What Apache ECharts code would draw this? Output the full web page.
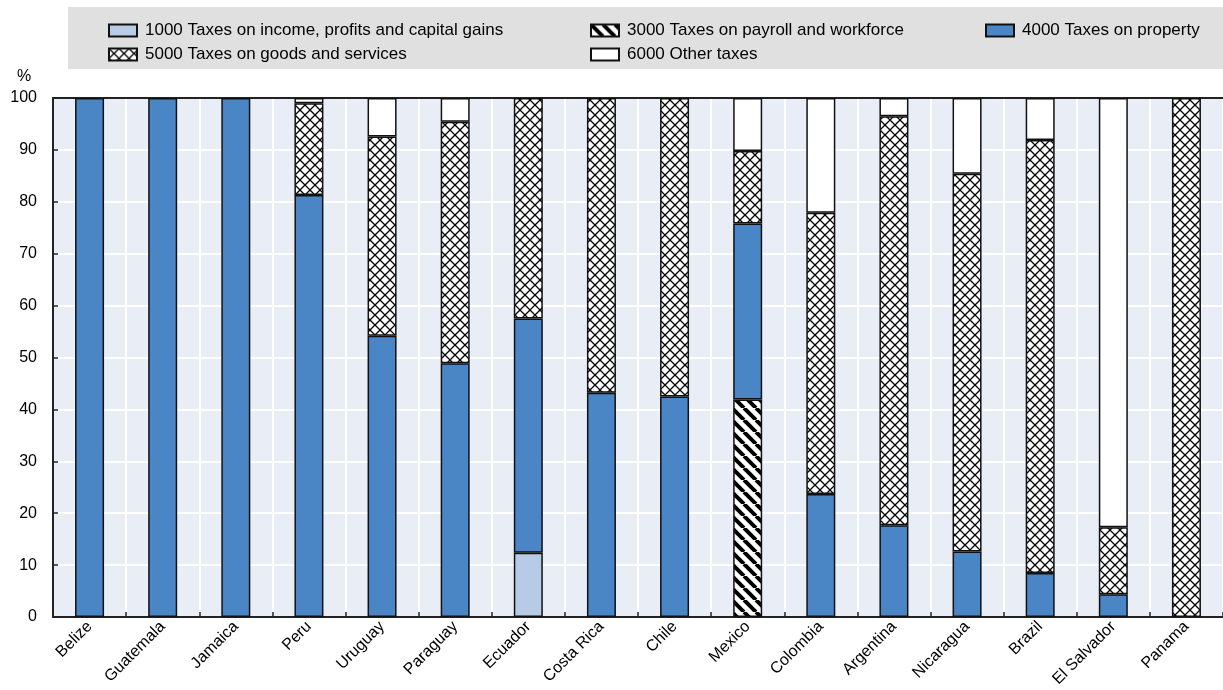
<!DOCTYPE html>
<html>
<head>
<meta charset="utf-8">
<script src="https://cdn.jsdelivr.net/npm/echarts@6/dist/echarts.min.js"></script>
<style>
html,body{margin:0;padding:0;background:#fff;}
#chart{width:1223px;height:690px;}
</style>
</head>
<body>
<div id="chart"></div>
<script>
const categories = ['Belize','Guatemala','Jamaica','Peru','Uruguay','Paraguay','Ecuador','Costa Rica','Chile','Mexico','Colombia','Argentina','Nicaragua','Brazil','El Salvador','Panama'];
const tax1000 = [null,null,null,null,null,null,12.4,null,null,null,null,null,null,null,null,null];
const tax3000 = [null,null,null,null,null,null,null,null,null,41.9,null,null,null,null,null,null];
const tax4000 = [100,100,100,81.3,54.2,48.9,45.1,43.2,42.5,33.9,23.7,17.7,12.6,8.5,4.4,null];
const tax5000 = [null,null,null,17.7,38.4,46.5,42.5,56.8,57.5,14.0,54.2,78.8,72.8,83.4,12.9,100];
const tax6000 = [null,null,null,1.0,7.4,4.6,null,null,null,10.2,22.1,3.5,14.6,8.1,82.7,null];
const seriesNames = ['1000 Taxes on income, profits and capital gains','3000 Taxes on payroll and workforce','4000 Taxes on property','5000 Taxes on goods and services','6000 Other taxes'];
const yTicks = [0,10,20,30,40,50,60,70,80,90,100];

function crossTile(){
  const c=document.createElement('canvas'); c.width=10; c.height=10;
  const g=c.getContext('2d');
  g.fillStyle='#fff'; g.fillRect(0,0,10,10);
  g.strokeStyle='#000'; g.lineWidth=1.3;
  g.beginPath(); g.moveTo(0,0); g.lineTo(10,10); g.moveTo(10,0); g.lineTo(0,10); g.stroke();
  return c;
}
function stripeTile(){
  const c=document.createElement('canvas'); c.width=12; c.height=12;
  const g=c.getContext('2d');
  g.fillStyle='#fff'; g.fillRect(0,0,12,12);
  g.strokeStyle='#000'; g.lineWidth=4;
  g.beginPath();
  for(let k=-12;k<=12;k+=12){ g.moveTo(k,0); g.lineTo(k+12,12); }
  g.stroke();
  return c;
}
const colors = [
  '#b8cbe6',
  {image: stripeTile(), repeat:'repeat'},
  '#4a86c5',
  {image: crossTile(), repeat:'repeat'},
  '#ffffff'
];
const dataSets = [tax1000,tax3000,tax4000,tax5000,tax6000];
const FONT = "'Liberation Sans', Arial, sans-serif";

const chart = echarts.init(document.getElementById('chart'), null, {renderer:'canvas'});
const legendPos = [
  {left:108, top:22},
  {left:590, top:22},
  {left:985, top:22},
  {left:108, top:46},
  {left:590, top:46}
];
const option = {
  animation:false,
  textStyle:{fontFamily:FONT},
  graphic:[
    {type:'rect', left:68, top:7, shape:{width:1155, height:62}, style:{fill:'#e0e0e0'}, z:-10},
    {type:'text', left:17, top:69, style:{text:'%', fontSize:16, fill:'#000', fontFamily:FONT}}
  ],
  legend: seriesNames.map((n,i)=>({
    data:[n], left:legendPos[i].left, top:legendPos[i].top,
    itemWidth:28, itemHeight:12, itemGap:0, padding:0,
    icon:'rect',
    textStyle:{fontSize:17, color:'#000', fontFamily:FONT, padding:[0,0,0,3]}
  })),
  grid:{left:53, right:0, top:98, bottom:73, show:true, backgroundColor:'#e9edf6', borderWidth:0},
  xAxis:[{
    type:'category', data:categories, boundaryGap:true,
    axisLine:{show:true, lineStyle:{color:'#222', width:2}},
    axisTick:{show:true, inside:true, length:5, interval:0, lineStyle:{color:'#222', width:1.5}},
    splitLine:{show:true, interval:0, lineStyle:{color:'#ffffff', width:2}},
    axisLabel:{interval:0, rotate:45, fontSize:16, color:'#000', margin:7, fontFamily:FONT}
  },{
    type:'category', data:categories, position:'top',
    axisLine:{show:true, lineStyle:{color:'#222', width:2}},
    axisTick:{show:false}, axisLabel:{show:false}, splitLine:{show:false}
  }],
  yAxis:{
    type:'value', min:yTicks[0], max:yTicks[yTicks.length-1], interval:10,
    axisLine:{show:true, lineStyle:{color:'#222', width:2}},
    axisTick:{show:true, inside:true, length:5, lineStyle:{color:'#222', width:1.5}},
    splitLine:{show:true, lineStyle:{color:'#ffffff', width:2}},
    axisLabel:{fontSize:16, color:'#000', margin:16, fontFamily:FONT}
  },
  series: seriesNames.map((n,i)=>({
    name:n, type:'bar', stack:'total', data:dataSets[i], barWidth:29,
    itemStyle:{color:colors[i], borderColor:'#111', borderWidth:1.5}
  }))
};
chart.setOption(option);
</script>
</body>
</html>
